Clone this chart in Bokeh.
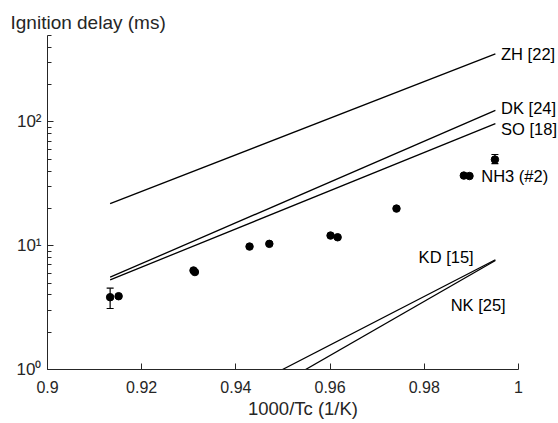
from bokeh.plotting import figure
from bokeh.models import Range1d, FixedTicker, Label, Whisker, ColumnDataSource, TeeHead
from bokeh.embed import file_html
from bokeh.resources import INLINE

# ---- data ----
zh_x = [0.9133, 0.9951]; zh_y = [21.9, 355.0]
dk_x = [0.9133, 0.9951]; dk_y = [5.57, 124.0]
so_x = [0.9133, 0.9951]; so_y = [5.30, 97.0]
kd_x = [0.9499, 0.9951]; kd_y = [1.0, 7.7]
nk_x = [0.9548, 0.9951]; nk_y = [1.0, 7.6]

nh3_x = [0.9133, 0.9151, 0.9310, 0.9313, 0.9429, 0.9471, 0.9601, 0.9616,
         0.9741, 0.9884, 0.9896, 0.9950]
nh3_y = [3.84, 3.91, 6.31, 6.13, 9.85, 10.36, 12.09, 11.71,
         19.97, 36.9, 36.6, 49.7]
err_x = [0.9133, 0.9950]
err_lo = [3.11, 46.1]
err_hi = [4.54, 54.6]

x_ticks = [0.9, 0.92, 0.94, 0.96, 0.98, 1.0]
x_tick_labels = ["0.9", "0.92", "0.94", "0.96", "0.98", "1"]
y_ticks = [1, 10, 100]
y_tick_labels = ["10\u2070", "10\u00b9", "10\u00b2"]
y_minor = [2, 3, 4, 5, 6, 7, 8, 9, 20, 30, 40, 50, 60, 70, 80, 90, 200, 300, 400, 500]

series_labels = ["ZH [22]", "DK [24]", "SO [18]", "NH3 (#2)", "KD [15]", "NK [25]"]

FONT = "Liberation Sans"
TXT = "#262626"

# frame extends right of x=1 so the series labels fit; the axis itself stops at 1
p = figure(width=558, height=423, output_backend="svg", toolbar_location=None,
           y_axis_type="log", x_range=Range1d(0.9, 1.0085), y_range=Range1d(1, 500),
           min_border_left=47, min_border_right=0, min_border_top=35, min_border_bottom=54)
p.outline_line_color = None
p.xgrid.visible = False
p.ygrid.visible = False
p.background_fill_color = "white"
p.border_fill_color = "white"

# title acts as the y-axis label
p.title.text = "Ignition delay (ms)"
p.title.text_font = FONT
p.title.text_font_size = "19px"
p.title.text_font_style = "normal"
p.title.text_color = TXT
p.title.align = "left"
p.title.offset = -37
p.title.standoff = 5

# x axis
p.xaxis.bounds = (0.9, 1.0)
p.xaxis.ticker = FixedTicker(ticks=x_ticks, minor_ticks=[])
p.xaxis.major_label_overrides = dict(zip(x_ticks, x_tick_labels))
p.xaxis.major_label_text_font = FONT
p.xaxis.major_label_text_font_size = "16px"
p.xaxis.major_label_text_color = TXT
p.xaxis.major_label_standoff = 11
p.xaxis.axis_label = "1000/Tc (1/K)"
p.xaxis.axis_label_text_font = FONT
p.xaxis.axis_label_text_font_size = "18.5px"
p.xaxis.axis_label_text_font_style = "normal"
p.xaxis.axis_label_text_color = TXT
p.xaxis.axis_label_standoff = 2

# y axis
p.yaxis.ticker = FixedTicker(ticks=y_ticks, minor_ticks=y_minor)
p.yaxis.major_label_overrides = dict(zip(y_ticks, y_tick_labels))
p.yaxis.major_label_text_font = FONT
p.yaxis.major_label_text_font_size = "17px"
p.yaxis.major_label_text_color = TXT
p.yaxis.major_label_standoff = 6

for ax in (p.xaxis, p.yaxis):
    ax.axis_line_color = TXT
    ax.major_tick_line_color = TXT
    ax.minor_tick_line_color = TXT
    ax.major_tick_in = 6
    ax.major_tick_out = 0
    ax.minor_tick_in = 4
    ax.minor_tick_out = 0

# correlation lines
for xs, ys in [(zh_x, zh_y), (dk_x, dk_y), (so_x, so_y), (kd_x, kd_y), (nk_x, nk_y)]:
    p.line(xs, ys, line_color="black", line_width=1.3)

# error bars
esrc = ColumnDataSource(dict(x=err_x, lo=err_lo, hi=err_hi))
p.add_layout(Whisker(source=esrc, base="x", lower="lo", upper="hi", dimension="height",
                     line_color="black", line_width=1.2,
                     upper_head=TeeHead(size=7, line_color="black", line_width=1.2),
                     lower_head=TeeHead(size=7, line_color="black", line_width=1.2)))

# measured points
p.scatter(nh3_x, nh3_y, marker="circle", size=7.5, fill_color="black", line_color="black")

# series labels
label_pos = [(0.9963, 355), (0.9963, 129), (0.9963, 88), (0.9921, 36.9), (0.9788, 8.07), (0.9856, 3.32)]
for t, (lx, ly) in zip(series_labels, label_pos):
    p.add_layout(Label(x=lx, y=ly, text=t, text_align="left", text_baseline="middle",
                       text_font=FONT, text_font_size="16.5px", text_color="black"))

open("out.html", "w").write(file_html(p, INLINE))
